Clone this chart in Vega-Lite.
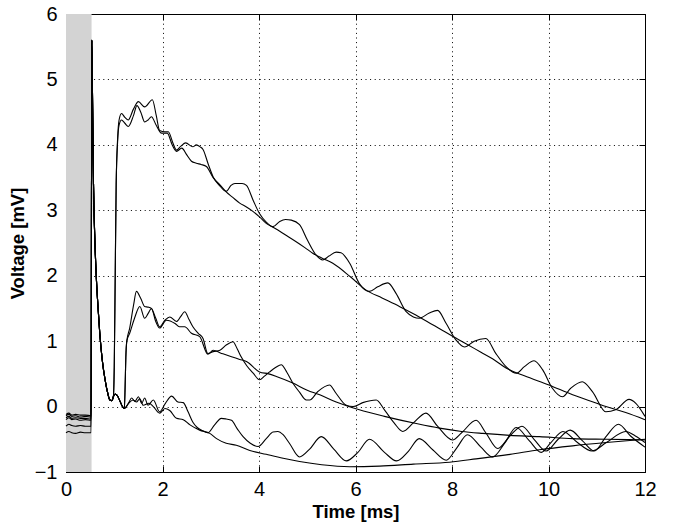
{
"$schema": "https://vega.github.io/schema/vega-lite/v6.json",
"width": 579, "height": 458,
"autosize": {"type": "none"},
"padding": {"left": 66, "top": 14, "right": 28, "bottom": 52},
"background": "#ffffff",
"config": {
 "view": {"stroke": "#000", "strokeWidth": 1},
 "font": "Liberation Sans",
 "axis": {"domainColor": "#000", "tickColor": "#000", "labelColor": "#000", "titleColor": "#000", "labelFont": "Liberation Sans", "labelFontSize": 20, "titleFont": "Liberation Sans", "titleFontSize": 18.5, "titleFontWeight": "bold", "gridColor": "#000", "gridDash": [1, 3.6], "gridOpacity": 1, "tickSize": -6, "labelFlush": false, "zindex": 1}
},
"resolve": {"axis": {"x": "independent", "y": "independent"}},
"layer": [
 {
  "data": {"values": [
{"s":"A","t":0,"v":-0.14},{"s":"A","t":0.06,"v":-0.12},{"s":"A","t":0.12,"v":-0.15},{"s":"A","t":0.2,"v":-0.14},{"s":"A","t":0.3,"v":-0.16},{"s":"A","t":0.4,"v":-0.15},{"s":"A","t":0.52,"v":-0.16},
{"s":"A","t":0.535,"v":5.6},{"s":"A","t":0.55,"v":4.7},{"s":"A","t":0.57,"v":3.4},{"s":"A","t":0.6,"v":2.5},{"s":"A","t":0.63,"v":1.95},{"s":"A","t":0.67,"v":1.45},{"s":"A","t":0.7,"v":1.12},{"s":"A","t":0.75,"v":0.72},{"s":"A","t":0.81,"v":0.41},{"s":"A","t":0.86,"v":0.22},{"s":"A","t":0.91,"v":0.1},{"s":"A","t":0.95,"v":0.09},
{"s":"A","t":0.98,"v":0.14},{"s":"A","t":1.0,"v":0.6},{"s":"A","t":1.02,"v":2.0},{"s":"A","t":1.04,"v":3.4},{"s":"A","t":1.07,"v":4.1},{"s":"A","t":1.1,"v":4.38},{"s":"A","t":1.15,"v":4.48},{"s":"A","t":1.22,"v":4.42},{"s":"A","t":1.29,"v":4.38},{"s":"A","t":1.4,"v":4.55},{"s":"A","t":1.5,"v":4.66},{"s":"A","t":1.63,"v":4.58},{"s":"A","t":1.79,"v":4.69},{"s":"A","t":1.87,"v":4.45},{"s":"A","t":1.94,"v":4.22},{"s":"A","t":2.05,"v":4.2},{"s":"A","t":2.12,"v":4.2},{"s":"A","t":2.22,"v":4.02},{"s":"A","t":2.29,"v":3.92},{"s":"A","t":2.38,"v":3.98},{"s":"A","t":2.48,"v":4.03},{"s":"A","t":2.63,"v":3.97},{"s":"A","t":2.7,"v":4.0},{"s":"A","t":2.78,"v":3.97},{"s":"A","t":2.84,"v":3.93},{"s":"A","t":2.95,"v":3.7},{"s":"A","t":3.05,"v":3.51},{"s":"A","t":3.18,"v":3.38},{"s":"A","t":3.32,"v":3.29},{"s":"A","t":3.42,"v":3.38},{"s":"A","t":3.5,"v":3.41},{"s":"A","t":3.65,"v":3.41},{"s":"A","t":3.74,"v":3.38},{"s":"A","t":3.88,"v":3.15},{"s":"A","t":4.01,"v":2.95},{"s":"A","t":4.15,"v":2.82},{"s":"A","t":4.29,"v":2.75},{"s":"A","t":4.43,"v":2.83},{"s":"A","t":4.55,"v":2.86},{"s":"A","t":4.67,"v":2.85},{"s":"A","t":4.84,"v":2.78},{"s":"A","t":5.0,"v":2.55},{"s":"A","t":5.19,"v":2.31},{"s":"A","t":5.32,"v":2.24},{"s":"A","t":5.45,"v":2.3},{"s":"A","t":5.6,"v":2.36},{"s":"A","t":5.7,"v":2.35},{"s":"A","t":5.88,"v":2.19},{"s":"A","t":6.08,"v":1.88},{"s":"A","t":6.29,"v":1.76},{"s":"A","t":6.46,"v":1.83},{"s":"A","t":6.67,"v":1.89},{"s":"A","t":6.84,"v":1.73},{"s":"A","t":7.05,"v":1.45},{"s":"A","t":7.2,"v":1.37},{"s":"A","t":7.32,"v":1.35},{"s":"A","t":7.53,"v":1.43},{"s":"A","t":7.7,"v":1.47},{"s":"A","t":7.88,"v":1.27},{"s":"A","t":8.08,"v":1.02},{"s":"A","t":8.26,"v":0.91},{"s":"A","t":8.46,"v":1.0},{"s":"A","t":8.7,"v":1.04},{"s":"A","t":8.91,"v":0.81},{"s":"A","t":9.12,"v":0.61},{"s":"A","t":9.33,"v":0.51},{"s":"A","t":9.5,"v":0.61},{"s":"A","t":9.7,"v":0.7},{"s":"A","t":9.88,"v":0.56},{"s":"A","t":10.08,"v":0.28},{"s":"A","t":10.29,"v":0.15},{"s":"A","t":10.46,"v":0.28},{"s":"A","t":10.7,"v":0.38},{"s":"A","t":10.91,"v":0.23},{"s":"A","t":11.19,"v":-0.08},{"s":"A","t":11.39,"v":-0.05},{"s":"A","t":11.67,"v":0.11},{"s":"A","t":11.81,"v":0.05},{"s":"A","t":12.0,"v":-0.15},
{"s":"B","t":0,"v":-0.12},{"s":"B","t":0.06,"v":-0.1},{"s":"B","t":0.12,"v":-0.13},{"s":"B","t":0.2,"v":-0.12},{"s":"B","t":0.3,"v":-0.13},{"s":"B","t":0.4,"v":-0.13},{"s":"B","t":0.52,"v":-0.14},
{"s":"B","t":0.535,"v":5.6},{"s":"B","t":0.55,"v":4.7},{"s":"B","t":0.57,"v":3.4},{"s":"B","t":0.6,"v":2.5},{"s":"B","t":0.63,"v":1.95},{"s":"B","t":0.67,"v":1.45},{"s":"B","t":0.7,"v":1.12},{"s":"B","t":0.75,"v":0.72},{"s":"B","t":0.81,"v":0.41},{"s":"B","t":0.86,"v":0.22},{"s":"B","t":0.91,"v":0.1},{"s":"B","t":0.95,"v":0.09},
{"s":"B","t":0.98,"v":0.14},{"s":"B","t":1.0,"v":0.6},{"s":"B","t":1.02,"v":2.0},{"s":"B","t":1.04,"v":3.4},{"s":"B","t":1.07,"v":4.05},{"s":"B","t":1.1,"v":4.3},{"s":"B","t":1.15,"v":4.38},{"s":"B","t":1.22,"v":4.33},{"s":"B","t":1.29,"v":4.28},{"s":"B","t":1.4,"v":4.45},{"s":"B","t":1.47,"v":4.6},{"s":"B","t":1.55,"v":4.5},{"s":"B","t":1.63,"v":4.35},{"s":"B","t":1.7,"v":4.38},{"s":"B","t":1.77,"v":4.43},{"s":"B","t":1.87,"v":4.3},{"s":"B","t":1.98,"v":4.18},{"s":"B","t":2.1,"v":4.18},{"s":"B","t":2.2,"v":4.0},{"s":"B","t":2.29,"v":3.9},{"s":"B","t":2.4,"v":3.95},{"s":"B","t":2.5,"v":3.85},{"s":"B","t":2.6,"v":3.75},{"s":"B","t":2.7,"v":3.72},{"s":"B","t":2.8,"v":3.7},{"s":"B","t":2.91,"v":3.67},{"s":"B","t":3.05,"v":3.5},{"s":"B","t":3.2,"v":3.38},{"s":"B","t":3.32,"v":3.28},{"s":"B","t":3.45,"v":3.2},{"s":"B","t":3.6,"v":3.11},{"s":"B","t":3.74,"v":3.05},{"s":"B","t":3.88,"v":2.98},{"s":"B","t":4.01,"v":2.9},{"s":"B","t":4.15,"v":2.8},{"s":"B","t":4.29,"v":2.74},{"s":"B","t":4.43,"v":2.68},{"s":"B","t":4.6,"v":2.6},{"s":"B","t":4.77,"v":2.52},{"s":"B","t":4.95,"v":2.43},{"s":"B","t":5.12,"v":2.34},{"s":"B","t":5.3,"v":2.27},{"s":"B","t":5.53,"v":2.19},{"s":"B","t":5.9,"v":1.98},{"s":"B","t":6.22,"v":1.78},{"s":"B","t":6.55,"v":1.66},{"s":"B","t":6.91,"v":1.53},{"s":"B","t":7.25,"v":1.4},{"s":"B","t":7.6,"v":1.25},{"s":"B","t":7.95,"v":1.1},{"s":"B","t":8.29,"v":0.96},{"s":"B","t":8.6,"v":0.83},{"s":"B","t":8.84,"v":0.73},{"s":"B","t":9.12,"v":0.59},{"s":"B","t":9.5,"v":0.47},{"s":"B","t":10.01,"v":0.33},{"s":"B","t":10.5,"v":0.18},{"s":"B","t":11.0,"v":0.05},{"s":"B","t":11.19,"v":0.0},{"s":"B","t":11.6,"v":-0.09},{"s":"B","t":12.0,"v":-0.2},
{"s":"C","t":0,"v":-0.17},{"s":"C","t":0.06,"v":-0.15},{"s":"C","t":0.12,"v":-0.18},{"s":"C","t":0.2,"v":-0.17},{"s":"C","t":0.3,"v":-0.18},{"s":"C","t":0.4,"v":-0.18},{"s":"C","t":0.52,"v":-0.19},
{"s":"C","t":0.535,"v":5.6},{"s":"C","t":0.55,"v":4.7},{"s":"C","t":0.57,"v":3.4},{"s":"C","t":0.6,"v":2.5},{"s":"C","t":0.63,"v":1.95},{"s":"C","t":0.67,"v":1.45},{"s":"C","t":0.7,"v":1.12},{"s":"C","t":0.75,"v":0.72},{"s":"C","t":0.81,"v":0.41},{"s":"C","t":0.86,"v":0.22},{"s":"C","t":0.91,"v":0.1},{"s":"C","t":0.95,"v":0.09},
{"s":"C","t":0.98,"v":0.15},{"s":"C","t":1.02,"v":0.19},{"s":"C","t":1.06,"v":0.17},{"s":"C","t":1.12,"v":0.08},{"s":"C","t":1.17,"v":0.0},{"s":"C","t":1.21,"v":-0.03},{"s":"C","t":1.225,"v":0.3},{"s":"C","t":1.24,"v":0.75},{"s":"C","t":1.26,"v":1.0},{"s":"C","t":1.32,"v":1.2},{"s":"C","t":1.4,"v":1.55},{"s":"C","t":1.46,"v":1.76},{"s":"C","t":1.55,"v":1.65},{"s":"C","t":1.63,"v":1.53},{"s":"C","t":1.7,"v":1.52},{"s":"C","t":1.77,"v":1.5},{"s":"C","t":1.86,"v":1.35},{"s":"C","t":1.94,"v":1.22},{"s":"C","t":2.05,"v":1.32},{"s":"C","t":2.15,"v":1.37},{"s":"C","t":2.29,"v":1.3},{"s":"C","t":2.38,"v":1.38},{"s":"C","t":2.46,"v":1.45},{"s":"C","t":2.55,"v":1.33},{"s":"C","t":2.63,"v":1.22},{"s":"C","t":2.74,"v":1.12},{"s":"C","t":2.84,"v":1.04},{"s":"C","t":2.94,"v":0.81},{"s":"C","t":3.05,"v":0.84},{"s":"C","t":3.19,"v":0.86},{"s":"C","t":3.32,"v":0.94},{"s":"C","t":3.46,"v":0.99},{"s":"C","t":3.55,"v":0.88},{"s":"C","t":3.63,"v":0.76},{"s":"C","t":3.75,"v":0.62},{"s":"C","t":3.88,"v":0.51},{"s":"C","t":4.01,"v":0.41},{"s":"C","t":4.12,"v":0.47},{"s":"C","t":4.22,"v":0.53},{"s":"C","t":4.35,"v":0.6},{"s":"C","t":4.46,"v":0.64},{"s":"C","t":4.58,"v":0.52},{"s":"C","t":4.7,"v":0.36},{"s":"C","t":4.84,"v":0.22},{"s":"C","t":4.98,"v":0.1},{"s":"C","t":5.05,"v":0.1},{"s":"C","t":5.22,"v":0.23},{"s":"C","t":5.46,"v":0.33},{"s":"C","t":5.6,"v":0.2},{"s":"C","t":5.81,"v":0.02},{"s":"C","t":5.95,"v":0.0},{"s":"C","t":6.15,"v":0.06},{"s":"C","t":6.43,"v":0.1},{"s":"C","t":6.6,"v":-0.05},{"s":"C","t":6.8,"v":-0.25},{"s":"C","t":6.98,"v":-0.38},{"s":"C","t":7.2,"v":-0.25},{"s":"C","t":7.46,"v":-0.1},{"s":"C","t":7.7,"v":-0.3},{"s":"C","t":8.01,"v":-0.51},{"s":"C","t":8.2,"v":-0.4},{"s":"C","t":8.5,"v":-0.21},{"s":"C","t":8.7,"v":-0.4},{"s":"C","t":8.95,"v":-0.64},{"s":"C","t":9.2,"v":-0.45},{"s":"C","t":9.45,"v":-0.3},{"s":"C","t":9.7,"v":-0.5},{"s":"C","t":9.95,"v":-0.68},{"s":"C","t":10.2,"v":-0.5},{"s":"C","t":10.45,"v":-0.36},{"s":"C","t":10.7,"v":-0.52},{"s":"C","t":10.95,"v":-0.68},{"s":"C","t":11.2,"v":-0.45},{"s":"C","t":11.45,"v":-0.27},{"s":"C","t":11.7,"v":-0.45},{"s":"C","t":12.0,"v":-0.62},
{"s":"D","t":0,"v":-0.2},{"s":"D","t":0.06,"v":-0.17},{"s":"D","t":0.12,"v":-0.2},{"s":"D","t":0.2,"v":-0.19},{"s":"D","t":0.3,"v":-0.21},{"s":"D","t":0.4,"v":-0.2},{"s":"D","t":0.52,"v":-0.21},
{"s":"D","t":0.535,"v":5.6},{"s":"D","t":0.55,"v":4.7},{"s":"D","t":0.57,"v":3.4},{"s":"D","t":0.6,"v":2.5},{"s":"D","t":0.63,"v":1.95},{"s":"D","t":0.67,"v":1.45},{"s":"D","t":0.7,"v":1.12},{"s":"D","t":0.75,"v":0.72},{"s":"D","t":0.81,"v":0.41},{"s":"D","t":0.86,"v":0.22},{"s":"D","t":0.91,"v":0.1},{"s":"D","t":0.95,"v":0.09},
{"s":"D","t":0.98,"v":0.15},{"s":"D","t":1.02,"v":0.19},{"s":"D","t":1.06,"v":0.17},{"s":"D","t":1.12,"v":0.08},{"s":"D","t":1.17,"v":0.0},{"s":"D","t":1.21,"v":-0.03},{"s":"D","t":1.225,"v":0.3},{"s":"D","t":1.24,"v":0.75},{"s":"D","t":1.26,"v":1.0},{"s":"D","t":1.32,"v":1.12},{"s":"D","t":1.42,"v":1.35},{"s":"D","t":1.53,"v":1.53},{"s":"D","t":1.63,"v":1.35},{"s":"D","t":1.7,"v":1.42},{"s":"D","t":1.77,"v":1.5},{"s":"D","t":1.86,"v":1.3},{"s":"D","t":1.94,"v":1.2},{"s":"D","t":2.08,"v":1.32},{"s":"D","t":2.26,"v":1.27},{"s":"D","t":2.35,"v":1.22},{"s":"D","t":2.46,"v":1.22},{"s":"D","t":2.6,"v":1.12},{"s":"D","t":2.77,"v":1.07},{"s":"D","t":2.94,"v":0.8},{"s":"D","t":3.05,"v":0.86},{"s":"D","t":3.2,"v":0.82},{"s":"D","t":3.43,"v":0.76},{"s":"D","t":3.6,"v":0.72},{"s":"D","t":3.74,"v":0.69},{"s":"D","t":4.01,"v":0.53},{"s":"D","t":4.2,"v":0.5},{"s":"D","t":4.36,"v":0.46},{"s":"D","t":4.7,"v":0.36},{"s":"D","t":5.0,"v":0.25},{"s":"D","t":5.26,"v":0.18},{"s":"D","t":5.6,"v":0.07},{"s":"D","t":6.08,"v":-0.05},{"s":"D","t":6.6,"v":-0.15},{"s":"D","t":7.26,"v":-0.26},{"s":"D","t":7.74,"v":-0.33},{"s":"D","t":8.2,"v":-0.38},{"s":"D","t":8.64,"v":-0.41},{"s":"D","t":9.2,"v":-0.44},{"s":"D","t":9.81,"v":-0.46},{"s":"D","t":10.5,"v":-0.49},{"s":"D","t":11.2,"v":-0.5},{"s":"D","t":12.0,"v":-0.51},
{"s":"E","t":0,"v":-0.3},{"s":"E","t":0.06,"v":-0.27},{"s":"E","t":0.12,"v":-0.29},{"s":"E","t":0.2,"v":-0.3},{"s":"E","t":0.3,"v":-0.29},{"s":"E","t":0.4,"v":-0.3},{"s":"E","t":0.52,"v":-0.3},
{"s":"E","t":0.535,"v":5.6},{"s":"E","t":0.55,"v":4.7},{"s":"E","t":0.57,"v":3.4},{"s":"E","t":0.6,"v":2.5},{"s":"E","t":0.63,"v":1.95},{"s":"E","t":0.67,"v":1.45},{"s":"E","t":0.7,"v":1.12},{"s":"E","t":0.75,"v":0.72},{"s":"E","t":0.81,"v":0.41},{"s":"E","t":0.86,"v":0.22},{"s":"E","t":0.91,"v":0.1},{"s":"E","t":0.95,"v":0.09},
{"s":"E","t":0.98,"v":0.15},{"s":"E","t":1.02,"v":0.19},{"s":"E","t":1.06,"v":0.17},{"s":"E","t":1.12,"v":0.08},{"s":"E","t":1.17,"v":0.0},{"s":"E","t":1.21,"v":-0.03},{"s":"E","t":1.3,"v":0.06},{"s":"E","t":1.36,"v":0.13},{"s":"E","t":1.43,"v":0.08},{"s":"E","t":1.5,"v":0.15},{"s":"E","t":1.57,"v":0.05},{"s":"E","t":1.63,"v":0.13},{"s":"E","t":1.7,"v":0.02},{"s":"E","t":1.81,"v":0.1},{"s":"E","t":1.94,"v":-0.08},{"s":"E","t":2.06,"v":0.05},{"s":"E","t":2.19,"v":0.16},{"s":"E","t":2.32,"v":0.07},{"s":"E","t":2.43,"v":0.06},{"s":"E","t":2.53,"v":-0.08},{"s":"E","t":2.63,"v":-0.24},{"s":"E","t":2.72,"v":-0.32},{"s":"E","t":2.81,"v":-0.36},{"s":"E","t":2.94,"v":-0.4},{"s":"E","t":3.08,"v":-0.28},{"s":"E","t":3.22,"v":-0.18},{"s":"E","t":3.32,"v":-0.19},{"s":"E","t":3.43,"v":-0.21},{"s":"E","t":3.55,"v":-0.34},{"s":"E","t":3.67,"v":-0.46},{"s":"E","t":3.82,"v":-0.56},{"s":"E","t":3.98,"v":-0.61},{"s":"E","t":4.15,"v":-0.49},{"s":"E","t":4.29,"v":-0.39},{"s":"E","t":4.39,"v":-0.38},{"s":"E","t":4.5,"v":-0.43},{"s":"E","t":4.63,"v":-0.56},{"s":"E","t":4.84,"v":-0.77},{"s":"E","t":5.05,"v":-0.65},{"s":"E","t":5.29,"v":-0.46},{"s":"E","t":5.55,"v":-0.65},{"s":"E","t":5.81,"v":-0.83},{"s":"E","t":6.05,"v":-0.7},{"s":"E","t":6.29,"v":-0.5},{"s":"E","t":6.6,"v":-0.7},{"s":"E","t":6.85,"v":-0.83},{"s":"E","t":7.1,"v":-0.68},{"s":"E","t":7.32,"v":-0.49},{"s":"E","t":7.6,"v":-0.66},{"s":"E","t":7.88,"v":-0.82},{"s":"E","t":8.1,"v":-0.63},{"s":"E","t":8.32,"v":-0.43},{"s":"E","t":8.6,"v":-0.62},{"s":"E","t":8.84,"v":-0.77},{"s":"E","t":9.1,"v":-0.55},{"s":"E","t":9.33,"v":-0.32},{"s":"E","t":9.6,"v":-0.52},{"s":"E","t":9.85,"v":-0.7},{"s":"E","t":10.05,"v":-0.55},{"s":"E","t":10.3,"v":-0.38},{"s":"E","t":10.6,"v":-0.55},{"s":"E","t":10.9,"v":-0.68},{"s":"E","t":11.2,"v":-0.55},{"s":"E","t":11.6,"v":-0.38},{"s":"E","t":11.8,"v":-0.45},{"s":"E","t":12.0,"v":-0.55},
{"s":"F","t":0,"v":-0.4},{"s":"F","t":0.06,"v":-0.38},{"s":"F","t":0.12,"v":-0.4},{"s":"F","t":0.2,"v":-0.41},{"s":"F","t":0.3,"v":-0.39},{"s":"F","t":0.4,"v":-0.4},{"s":"F","t":0.52,"v":-0.4},
{"s":"F","t":0.535,"v":5.6},{"s":"F","t":0.55,"v":4.7},{"s":"F","t":0.57,"v":3.4},{"s":"F","t":0.6,"v":2.5},{"s":"F","t":0.63,"v":1.95},{"s":"F","t":0.67,"v":1.45},{"s":"F","t":0.7,"v":1.12},{"s":"F","t":0.75,"v":0.72},{"s":"F","t":0.81,"v":0.41},{"s":"F","t":0.86,"v":0.22},{"s":"F","t":0.91,"v":0.1},{"s":"F","t":0.95,"v":0.09},
{"s":"F","t":0.98,"v":0.15},{"s":"F","t":1.02,"v":0.19},{"s":"F","t":1.06,"v":0.17},{"s":"F","t":1.12,"v":0.08},{"s":"F","t":1.17,"v":0.0},{"s":"F","t":1.21,"v":-0.03},{"s":"F","t":1.3,"v":0.05},{"s":"F","t":1.39,"v":0.1},{"s":"F","t":1.46,"v":0.07},{"s":"F","t":1.53,"v":0.12},{"s":"F","t":1.6,"v":0.02},{"s":"F","t":1.72,"v":0.05},{"s":"F","t":1.81,"v":0.0},{"s":"F","t":1.94,"v":-0.1},{"s":"F","t":2.05,"v":-0.03},{"s":"F","t":2.15,"v":-0.06},{"s":"F","t":2.29,"v":-0.18},{"s":"F","t":2.43,"v":-0.2},{"s":"F","t":2.57,"v":-0.28},{"s":"F","t":2.77,"v":-0.36},{"s":"F","t":2.98,"v":-0.41},{"s":"F","t":3.12,"v":-0.49},{"s":"F","t":3.32,"v":-0.56},{"s":"F","t":3.53,"v":-0.59},{"s":"F","t":3.81,"v":-0.67},{"s":"F","t":4.15,"v":-0.73},{"s":"F","t":4.5,"v":-0.79},{"s":"F","t":4.84,"v":-0.84},{"s":"F","t":5.3,"v":-0.89},{"s":"F","t":5.88,"v":-0.92},{"s":"F","t":6.5,"v":-0.91},{"s":"F","t":7.2,"v":-0.88},{"s":"F","t":7.95,"v":-0.85},{"s":"F","t":8.5,"v":-0.8},{"s":"F","t":9.2,"v":-0.73},{"s":"F","t":9.81,"v":-0.66},{"s":"F","t":10.5,"v":-0.6},{"s":"F","t":11.2,"v":-0.55},{"s":"F","t":12.0,"v":-0.5}
  ]},
  "layer": [
   {
    "data": {"values": [{"a": 0, "b": 0.53}]},
    "mark": {"type": "rect", "fill": "#d3d3d3"},
    "encoding": {
     "x": {"field": "a", "type": "quantitative", "scale": {"domain": [0, 12], "nice": false}, "title": "Time [ms]", "axis": {"values": [0, 2, 4, 6, 8, 10, 12], "format": "d", "grid": true, "labelPadding": 13, "titlePadding": 3}},
     "x2": {"field": "b"},
     "y": {"datum": 6, "type": "quantitative", "scale": {"domain": [-1, 6], "nice": false}, "title": "Voltage [mV]", "axis": {"values": [-1, 0, 1, 2, 3, 4, 5, 6], "format": "d", "grid": true, "labelPadding": 15, "titlePadding": 7}},
     "y2": {"datum": -1}
    }
   },
   {
    "mark": {"type": "line", "interpolate": "monotone", "color": "#000", "strokeWidth": 1.1},
    "encoding": {
     "x": {"field": "t", "type": "quantitative", "title": "Time [ms]"},
     "y": {"field": "v", "type": "quantitative", "title": "Voltage [mV]"},
     "detail": {"field": "s"}
    }
   }
  ]
 },
 {
  "data": {"values": [{"a": 0, "c": 6}]},
  "mark": {"type": "point", "opacity": 0},
  "encoding": {
   "x": {"field": "a", "type": "quantitative", "axis": {"orient": "top", "values": [0, 2, 4, 6, 8, 10, 12], "labels": false, "grid": false, "domain": false, "title": null}},
   "y": {"field": "c", "type": "quantitative", "axis": {"orient": "right", "values": [-1, 0, 1, 2, 3, 4, 5, 6], "labels": false, "grid": false, "domain": false, "title": null}}
  }
 }
]
}
